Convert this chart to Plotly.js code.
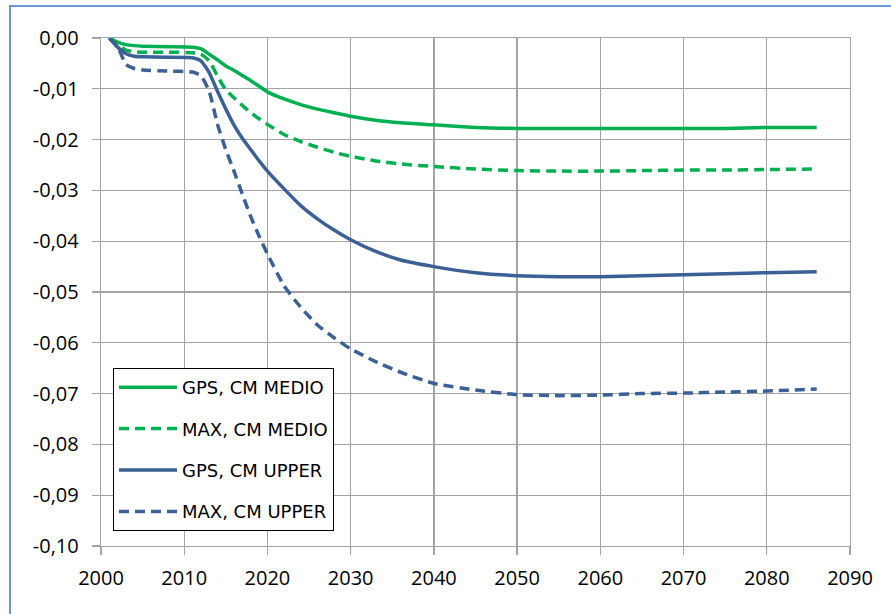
<!DOCTYPE html>
<html>
<head>
<meta charset="utf-8">
<script src="https://cdn.plot.ly/plotly-3.0.1.min.js"></script>
<style>
  html, body { margin: 0; padding: 0; background: #ffffff; }
  #chart { width: 891px; height: 614px; }
</style>
</head>
<body>
<div id="chart"></div>
<script>
// ---- data ----
const years = [2001,2002,2003,2004,2005,2008,2011,2012,2013,2014,2015,2016,2017,2018,2019,2020,
               2022,2024,2026,2028,2030,2033,2036,2040,2045,2050,2055,2060,2065,2070,2075,2080,2086];

const gpsMedio = [0,-0.0008,-0.0013,-0.0015,-0.0016,-0.0017,-0.0018,-0.0021,-0.0032,-0.0043,-0.0055,-0.0064,-0.0074,-0.0084,-0.0095,-0.0106,
                  -0.0120,-0.0131,-0.0140,-0.0147,-0.0154,-0.0162,-0.0167,-0.0171,-0.0176,-0.0178,-0.0178,-0.0178,-0.0178,-0.0178,-0.0178,-0.0176,-0.0176];

const maxMedio = [0,-0.0013,-0.0024,-0.0027,-0.0028,-0.0028,-0.0029,-0.0032,-0.0045,-0.0075,-0.0102,-0.0118,-0.0133,-0.0147,-0.0159,-0.0170,
                  -0.0190,-0.0204,-0.0215,-0.0225,-0.0233,-0.0242,-0.0248,-0.0253,-0.0258,-0.0261,-0.0262,-0.0262,-0.0261,-0.0260,-0.0260,-0.0259,-0.0258];

const gpsUpper = [0,-0.0018,-0.0031,-0.0036,-0.0037,-0.0038,-0.0039,-0.0045,-0.0068,-0.0105,-0.0140,-0.0172,-0.0198,-0.0220,-0.0242,-0.0262,
                  -0.0297,-0.0330,-0.0356,-0.0378,-0.0397,-0.0420,-0.0437,-0.0450,-0.0462,-0.0468,-0.0470,-0.0470,-0.0468,-0.0466,-0.0464,-0.0462,-0.0460];

const maxUpper = [0,-0.0017,-0.0052,-0.0060,-0.0063,-0.0065,-0.0067,-0.0074,-0.0105,-0.0170,-0.0220,-0.0263,-0.0308,-0.0352,-0.0390,-0.0425,
                  -0.0488,-0.0530,-0.0565,-0.0590,-0.0612,-0.0637,-0.0658,-0.0680,-0.0693,-0.0702,-0.0704,-0.0703,-0.0700,-0.0699,-0.0697,-0.0695,-0.0691];

const seriesNames = ['GPS, CM MEDIO', 'MAX, CM MEDIO', 'GPS, CM UPPER', 'MAX, CM UPPER'];

const xTickVals = [2000,2010,2020,2030,2040,2050,2060,2070,2080,2090];
const yTickVals = [0,-0.01,-0.02,-0.03,-0.04,-0.05,-0.06,-0.07,-0.08,-0.09,-0.10];
const yTickText = ['0,00','-0,01','-0,02','-0,03','-0,04','-0,05','-0,06','-0,07','-0,08','-0,09','-0,10'];

// ---- styling ----
const GREEN = '#00b050';
const BLUE = '#3b6096';
const GRID = '#a3a3a3';
const DASH = '10px,6px';

function trace(y, name, color, dash, grp) {
  return {
    x: years, y: y, name: name, type: 'scatter', mode: 'lines',
    legendgroup: grp,
    line: { color: color, width: 3.5, dash: dash, shape: 'spline', smoothing: 0.5 }
  };
}

const data = [
  trace(gpsMedio, seriesNames[0], GREEN, 'solid', 'a'),
  trace(maxMedio, seriesNames[1], GREEN, DASH, 'b'),
  trace(gpsUpper, seriesNames[2], BLUE, 'solid', 'c'),
  trace(maxUpper, seriesNames[3], BLUE, DASH, 'd')
];

const L = 101, R = 850, T = 38, B = 546, W = 891, H = 614;
const pw = R - L, ph = B - T;

const layout = {
  width: W, height: H,
  margin: { l: L, r: W - R, t: T, b: H - B, pad: 0 },
  paper_bgcolor: '#ffffff',
  plot_bgcolor: '#ffffff',
  showlegend: true,
  font: { family: 'Open Sans, Liberation Sans, sans-serif', color: '#000000' },
  xaxis: {
    range: [2000, 2090],
    tickvals: xTickVals,
    ticks: 'outside', ticklen: 8, tickwidth: 1.3, tickcolor: GRID,
    showgrid: true, gridcolor: GRID, gridwidth: 1.3,
    showline: true, linecolor: GRID, linewidth: 1.3, mirror: true,
    zeroline: false,
    tickfont: { size: 20, color: '#000000' },
    ticklabelstandoff: 6,
    fixedrange: true
  },
  yaxis: {
    range: [-0.1, 0],
    tickvals: yTickVals, ticktext: yTickText,
    ticks: 'outside', ticklen: 8, tickwidth: 1.3, tickcolor: GRID,
    showgrid: true, gridcolor: GRID, gridwidth: 1.3,
    showline: true, linecolor: GRID, linewidth: 1.3, mirror: true,
    zeroline: false,
    tickfont: { size: 20, color: '#000000' },
    ticklabelstandoff: 9,
    fixedrange: true
  },
  legend: {
    x: (113 - L) / pw, y: (B - 368) / ph,
    xanchor: 'left', yanchor: 'top',
    bgcolor: '#ffffff', bordercolor: '#000000', borderwidth: 1,
    font: { size: 18, color: '#000000', family: 'DejaVu Sans, Open Sans, sans-serif' },
    traceorder: 'grouped', tracegroupgap: 15,
    itemwidth: 58
  },
  shapes: [
    {
      type: 'rect', xref: 'paper', yref: 'paper',
      x0: (10 - L) / pw, x1: 2, y0: -1, y1: 1 + (T - 6) / ph,
      line: { color: '#6b96d6', width: 2 }, fillcolor: 'rgba(0,0,0,0)', layer: 'below'
    }
  ]
};

Plotly.newPlot('chart', data, layout, { displayModeBar: false, staticPlot: true });
</script>
</body>
</html>
